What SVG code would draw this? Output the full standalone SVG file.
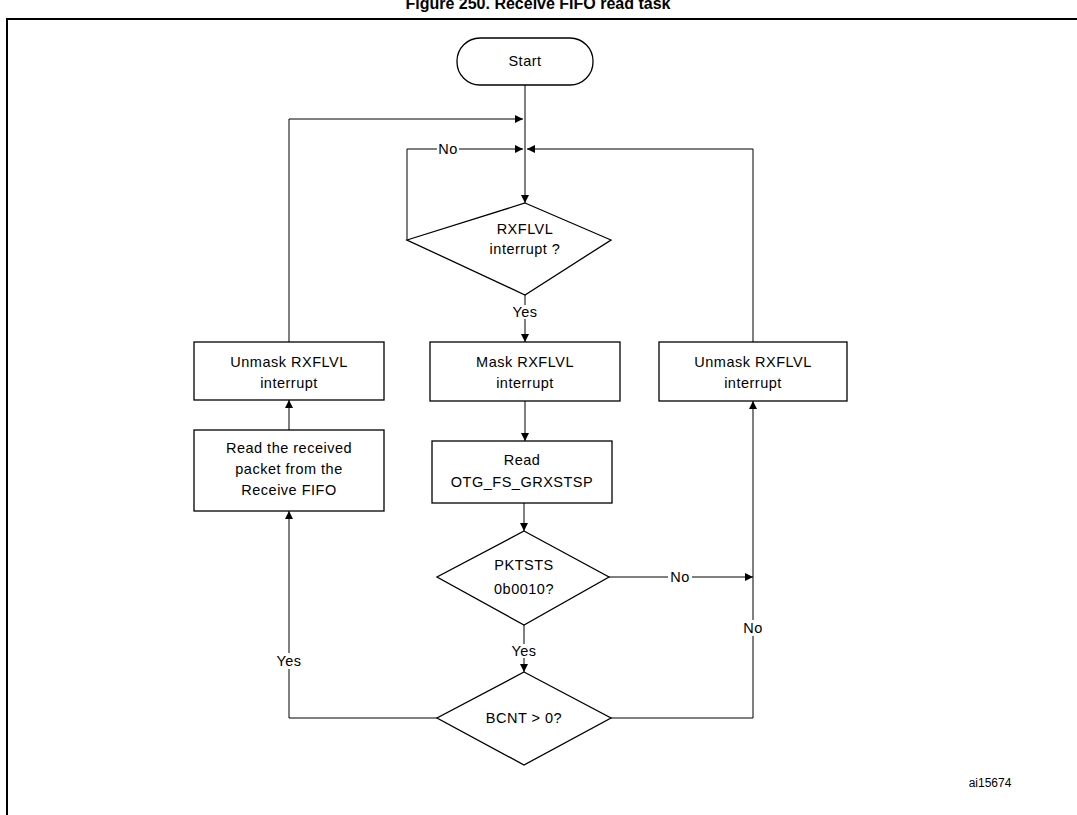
<svg xmlns="http://www.w3.org/2000/svg" width="1077" height="815" viewBox="0 0 1077 815">
<style>
text{font-family:"Liberation Sans",Arial,sans-serif;font-size:14.5px;text-anchor:middle;fill:#000;letter-spacing:0.5px}
.s{fill:#fff;stroke:#000;stroke-width:1.3}
.c{fill:none;stroke:#000;stroke-width:1}
.lb{fill:#fff}
</style>
<defs><marker id="a" viewBox="0 0 10 10" refX="10" refY="5" markerWidth="8" markerHeight="8" markerUnits="userSpaceOnUse" orient="auto"><path d="M0,0L10,5L0,10z" fill="#000"/></marker></defs>
<rect width="1077" height="815" fill="#fff"/>
<text x="538" y="9" style="font-weight:bold;font-size:16px;letter-spacing:0">Figure 250. Receive FIFO read task</text>
<rect x="7" y="19" width="1080" height="810" fill="none" stroke="#000" stroke-width="2"/>
<g id="connectors">
<path class="c" d="M525,85V203" marker-end="url(#a)"/>
<path class="c" d="M289,342V119H523" marker-end="url(#a)"/>
<path class="c" d="M407,240V149H523" marker-end="url(#a)"/>
<path class="c" d="M753,342V149H527" marker-end="url(#a)"/>
<path class="c" d="M525,295V342" marker-end="url(#a)"/>
<path class="c" d="M525,401V441" marker-end="url(#a)"/>
<path class="c" d="M524,503V531" marker-end="url(#a)"/>
<path class="c" d="M609,577H753" marker-end="url(#a)"/>
<path class="c" d="M524,625V672" marker-end="url(#a)"/>
<path class="c" d="M611,718H753V401" marker-end="url(#a)"/>
<path class="c" d="M437,718H289V511" marker-end="url(#a)"/>
<path class="c" d="M289,430V400" marker-end="url(#a)"/>
<rect class="lb" x="437" y="142" width="22" height="14"/><text x="448" y="154">No</text>
<rect class="lb" x="510" y="305" width="30" height="14"/><text x="525" y="317">Yes</text>
<rect class="lb" x="668" y="570" width="24" height="14"/><text x="680" y="582">No</text>
<rect class="lb" x="742" y="620" width="22" height="16"/><text x="753" y="633">No</text>
<rect class="lb" x="509" y="644" width="30" height="14"/><text x="524" y="656">Yes</text>
<rect class="lb" x="274" y="653" width="30" height="16"/><text x="289" y="666">Yes</text>
</g>
<g id="start"><rect class="s" x="457" y="38" width="136" height="47" rx="23"/><text x="525" y="66">Start</text></g>
<g id="d1"><path class="s" d="M525,203L611,240L525,295L407,240z"/><text x="525" y="234">RXFLVL</text><text x="525" y="254">interrupt ?</text></g>
<g id="mask"><rect class="s" x="430" y="342" width="190" height="59"/><text x="525" y="367">Mask RXFLVL</text><text x="525" y="388">interrupt</text></g>
<g id="readsts"><rect class="s" x="432" y="441" width="180" height="62"/><text x="522" y="465">Read</text><text x="522" y="487">OTG_FS_GRXSTSP</text></g>
<g id="d2"><path class="s" d="M524,531L609,577L524,625L437,577z"/><text x="524" y="570">PKTSTS</text><text x="524" y="594">0b0010?</text></g>
<g id="d3"><path class="s" d="M524,672L611,718L524,765L437,718z"/><text x="524" y="723">BCNT &gt; 0?</text></g>
<g id="unmaskR"><rect class="s" x="659" y="342" width="188" height="59"/><text x="753" y="367">Unmask RXFLVL</text><text x="753" y="388">interrupt</text></g>
<g id="unmaskL"><rect class="s" x="194" y="342" width="190" height="58"/><text x="289" y="367">Unmask RXFLVL</text><text x="289" y="388">interrupt</text></g>
<g id="readpkt"><rect class="s" x="194" y="430" width="190" height="81"/><text x="289" y="453">Read the received</text><text x="289" y="474">packet from the</text><text x="289" y="495">Receive FIFO</text></g>
<text x="990" y="787" style="font-size:12px;letter-spacing:0">ai15674</text>
</svg>
